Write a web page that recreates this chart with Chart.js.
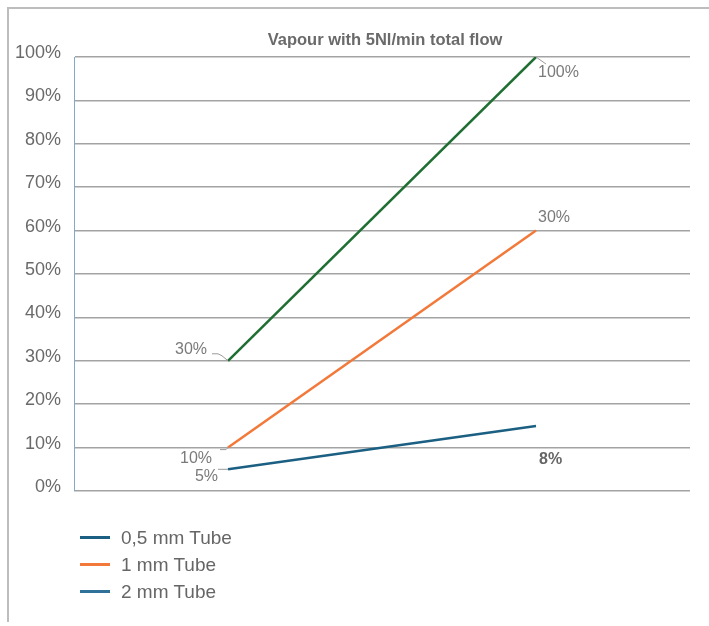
<!DOCTYPE html>
<html>
<head>
<meta charset="utf-8">
<script src="https://cdn.jsdelivr.net/npm/chart.js@4/dist/chart.umd.min.js"></script>
<style>
  html, body { margin: 0; padding: 0; background: #fff; }
  #wrap { position: relative; width: 709px; height: 626px; }
  #frame { position: absolute; left: 7px; top: 7px; right: 0; bottom: 4px;
           border-left: 2px solid #bdbdbd; border-top: 2px solid #bdbdbd; }
  canvas { position: absolute; left: 0; top: 0; }
  #legend { position: absolute; left: 80px; top: 524px; font-family: "Liberation Sans", Arial, sans-serif;
            font-size: 19px; color: #666; }
  #legend div { height: 27px; display: flex; align-items: center; }
  #legend span.sw { display: inline-block; width: 30px; height: 3px; margin-right: 11px; }
</style>
</head>
<body>
<div id="wrap">
  <div id="frame"></div>
  <canvas id="c" width="709" height="626"></canvas>
  <div id="legend"></div>
</div>
<script>
// Two measurement stages along the horizontal axis
const stages = ['Start', 'End'];

// Series names and values (percent)
const seriesNames = ['0,5 mm Tube', '1 mm Tube', '2 mm Tube'];
const tube05 = [5, 15];
const tube1 = [10, 60];
const tube2 = [30, 100];

// Annotation texts printed next to each line's end points
const tube05Labels = ['5%', '8%'];
const tube1Labels = ['10%', '30%'];
const tube2Labels = ['30%', '100%'];

// Y axis tick values
const yTicks = [0, 10, 20, 30, 40, 50, 60, 70, 80, 90, 100];

const chartTitle = 'Vapour with 5Nl/min total flow';

const lineColors = ['#1b5f82', '#f2793a', '#1f6e32'];
const legendColors = ['#1b5f82', '#f2793a', '#2f7198'];

const FONT = '"Liberation Sans", Arial, sans-serif';

// Per-point label placement (pixel offsets from the point, text alignment, optional leader)
const labelStyle = [
  [ { dx: -10, dy: 7, align: 'right', lead: [[-10, 0], [0, 0]] },
    { dx: 3, dy: 34, align: 'left', bold: true } ],
  [ { dx: -16, dy: 11, align: 'right', lead: [[-8, 2], [-2, 2], [0, 0]] },
    { dx: 2, dy: -13, align: 'left' } ],
  [ { dx: -21, dy: -11, align: 'right', lead: [[-16, -7], [-10, -7], [-6, -5], [0, 0]] },
    { dx: 2, dy: 16, align: 'left', lead: [[0, 0], [10, 7]] } ]
];

const seriesData = [tube05, tube1, tube2];
const seriesLabels = [tube05Labels, tube1Labels, tube2Labels];

// Point annotations with short leader strokes
const pointLabels = {
  id: 'pointLabels',
  afterDatasetsDraw(chart) {
    const ctx = chart.ctx;
    ctx.save();
    chart.data.datasets.forEach((ds, i) => {
      const meta = chart.getDatasetMeta(i);
      meta.data.forEach((pt, j) => {
        const st = labelStyle[i][j];
        if (st.lead) {
          ctx.beginPath();
          ctx.strokeStyle = '#9a9a9a';
          ctx.lineWidth = 1;
          st.lead.forEach((p, k) => {
            const x = pt.x + p[0], y = pt.y + p[1];
            if (k === 0) ctx.moveTo(x, y); else ctx.lineTo(x, y);
          });
          ctx.stroke();
        }
        ctx.fillStyle = st.bold ? '#666' : '#7a7a7a';
        ctx.font = (st.bold ? 'bold ' : '') + '16px ' + FONT;
        ctx.textAlign = st.align;
        ctx.textBaseline = 'middle';
        ctx.fillText(seriesLabels[i][j], pt.x + st.dx, pt.y + st.dy);
      });
    });
    ctx.restore();
  }
};

// Title drawn just above the plot area
const plotTitle = {
  id: 'plotTitle',
  afterDraw(chart) {
    const ctx = chart.ctx, a = chart.chartArea;
    ctx.save();
    ctx.fillStyle = '#6a6a6a';
    ctx.font = 'bold 16.5px ' + FONT;
    ctx.textAlign = 'center';
    ctx.textBaseline = 'middle';
    ctx.fillText(chartTitle, (a.left + a.right) / 2 + 3, a.top - 17);
    ctx.restore();
  }
};

const chart = new Chart(document.getElementById('c'), {
  type: 'line',
  data: {
    labels: stages,
    datasets: seriesNames.map((name, i) => ({
      label: name,
      data: seriesData[i],
      borderColor: lineColors[i],
      backgroundColor: lineColors[i],
      borderWidth: 2.5,
      pointRadius: 0,
      tension: 0
    }))
  },
  options: {
    responsive: false,
    animation: false,
    layout: { padding: { left: 0, right: 19, top: 57, bottom: 135 } },
    plugins: {
      legend: { display: false },
      tooltip: { enabled: false },
      title: { display: false }
    },
    scales: {
      x: {
        type: 'category',
        offset: true,
        display: false
      },
      y: {
        min: 0,
        max: 100,
        afterFit(scale) { scale.width = 74; },
        afterBuildTicks(scale) { scale.ticks = yTicks.map(v => ({ value: v })); },
        border: { display: true, color: '#7fabc9', width: 1 },
        grid: { color: '#a3a3a3', lineWidth: 1.5, drawTicks: false },
        ticks: {
          padding: 13,
          labelOffset: -4,
          color: '#6a6a6a',
          font: { family: FONT, size: 18 },
          callback: v => v + '%'
        }
      }
    }
  },
  plugins: [pointLabels, plotTitle]
});

// Legend rows built from the series names
const legend = document.getElementById('legend');
seriesNames.forEach((name, i) => {
  const row = document.createElement('div');
  const sw = document.createElement('span');
  sw.className = 'sw';
  sw.style.background = legendColors[i];
  row.appendChild(sw);
  row.appendChild(document.createTextNode(name));
  legend.appendChild(row);
});
</script>
</body>
</html>
